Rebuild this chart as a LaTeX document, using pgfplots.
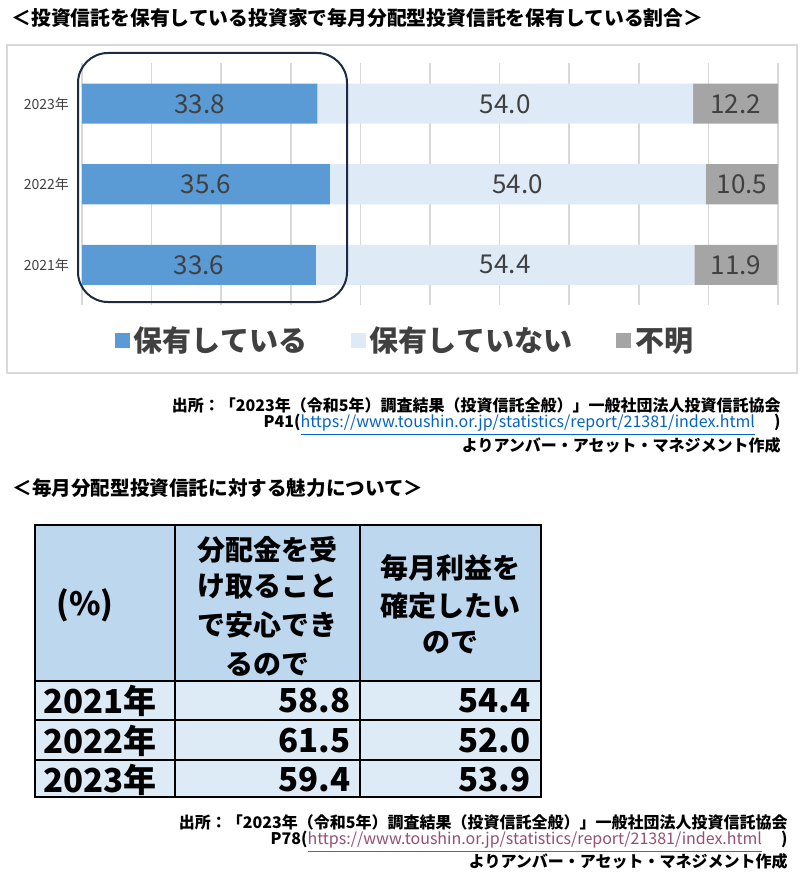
\documentclass[border=0pt]{standalone}
\usepackage{fontspec}
\setmainfont{Noto Sans CJK JP}
\usepackage{pgfplots}
\pgfplotsset{compat=1.18}
\usepackage{pgfplotstable}

\definecolor{hold}{HTML}{5B9BD5}
\definecolor{nohold}{HTML}{DEEBF7}
\definecolor{unknown}{HTML}{A5A5A5}
\definecolor{gridc}{HTML}{D9D9D9}
\definecolor{txt}{HTML}{404040}
\definecolor{hdr}{HTML}{BDD7EE}
\definecolor{bodyc}{HTML}{DDEBF7}
\definecolor{link}{HTML}{0563C1}
\definecolor{visited}{HTML}{954F72}
\definecolor{navy}{HTML}{1F2A40}

% y: 0=2021, 1=2022, 2=2023
\pgfplotstableread{
y hold nohold unknown
0 33.6 54.4 11.9
1 35.6 54.0 10.5
2 33.8 54.0 12.2
}\shares

% label positions = middle of each segment
\pgfplotstableread{
x y label
16.8 0 33.6
60.8 0 54.4
93.95 0 11.9
17.8 1 35.6
62.6 1 54.0
94.85 1 10.5
16.9 2 33.8
60.8 2 54.0
93.9 2 12.2
}\labels

\begin{document}
\begin{tikzpicture}
\begin{axis}[
  at={(41pt,-152.5pt)}, anchor=south west,
  scale only axis, width=348pt, height=120.75pt,
  xbar stacked, bar width=20pt,
  xmin=0, xmax=100, ymin=-0.5, ymax=2.5,
  xtick={0,10,...,100}, xticklabels={},
  xmajorgrids, grid style={gridc, line width=0.8pt},
  ytick={0,1,2}, yticklabels={2021年,2022年,2023年},
  yticklabel style={font=\fontsize{7}{8}\selectfont, text=txt, xshift=-3pt},
  axis line style={draw=none}, major tick style={draw=none},
  legend style={at={(0.4655,-0.149)}, anchor=center, draw=none, fill=none,
    legend columns=3, font=\fontsize{14.5}{16}\selectfont\bfseries, text=txt,
    /tikz/every even column/.append style={column sep=20pt}},
  legend image code/.code={\draw[#1, draw=none] (0pt,-3.75pt) rectangle (7.5pt,3.75pt);},
]
\addplot[fill=hold, draw=none] table[x=hold, y=y] {\shares};
\addlegendentry{保有している}
\addplot[fill=nohold, draw=none] table[x=nohold, y=y] {\shares};
\addlegendentry{保有していない}
\addplot[fill=unknown, draw=none] table[x=unknown, y=y] {\shares};
\addlegendentry{不明}
\end{axis}

\begin{axis}[
  at={(41pt,-152.5pt)}, anchor=south west,
  scale only axis, width=348pt, height=120.75pt,
  xmin=0, xmax=100, ymin=-0.5, ymax=2.5, hide axis, clip=false,
]
\addplot[only marks, mark=none, nodes near coords, point meta=explicit symbolic,
  every node near coord/.append style={anchor=center, font=\fontsize{13}{13}\selectfont, text=txt}]
  table[x=x, y=y, meta=label] {\labels};
\end{axis}

\begin{scope}[x=0.5pt, y=-0.5pt]
% frame and highlight
\draw[gridc, line width=0.8pt] (7,45) rectangle (797,373);
\draw[navy, line width=1pt, rounded corners=15pt] (78,53) rectangle (347,302);

% titles
\node[anchor=west, inner sep=0, font=\fontsize{9.9}{11}\selectfont\bfseries] at (11,18)
  {＜投資信託を保有している投資家で毎月分配型投資信託を保有している割合＞};
\node[anchor=west, inner sep=0, font=\fontsize{9.8}{11}\selectfont\bfseries] at (12,488)
  {＜毎月分配型投資信託に対する魅力について＞};

% sources
\begin{scope}[every node/.style={anchor=east, inner sep=0, font=\fontsize{8}{9}\selectfont\bfseries}]
\node at (781,405) {出所：「2023年（令和5年）調査結果（投資信託全般）」一般社団法人投資信託協会};
\node at (781,425) {P41(\textcolor{link}{\mdseries\underline{https://www.toushin.or.jp/statistics/report/21381/index.html}}\hspace{1.2em})};
\node at (781,445) {よりアンバー・アセット・マネジメント作成};
\node at (788,822) {出所：「2023年（令和5年）調査結果（投資信託全般）」一般社団法人投資信託協会};
\node at (788,842) {P78(\textcolor{visited}{\mdseries\underline{https://www.toushin.or.jp/statistics/report/21381/index.html}}\hspace{1.2em})};
\node at (788,861) {よりアンバー・アセット・マネジメント作成};
\end{scope}

% table
\fill[hdr] (35,525) rectangle (541,681);
\fill[bodyc] (35,681) rectangle (541,797);
\draw[black, line width=1.2pt] (35,525) rectangle (541,797)
  (175,525) -- (175,797) (360,525) -- (360,797)
  (35,681) -- (541,681) (35,720) -- (541,720) (35,760) -- (541,760);

\begin{scope}[every node/.style={inner sep=0, font=\fontsize{14}{15}\selectfont\bfseries}]
\node[font=\fontsize{16}{17}\selectfont\bfseries] at (85,605) {(\%)};
\node at (267,550) {分配金を受};
\node at (267,587) {け取ること};
\node at (267,625) {で安心でき};
\node at (267,664) {るので};
\node at (450,568) {毎月利益を};
\node at (450,606) {確定したい};
\node at (450,643) {ので};
\end{scope}

\begin{scope}[every node/.style={inner sep=0, font=\fontsize{16.5}{18}\selectfont\bfseries}]
\node[anchor=west] at (43,701) {2021年};
\node[anchor=west] at (43,741) {2022年};
\node[anchor=west] at (43,780) {2023年};
\node[anchor=east] at (351,701) {58.8};
\node[anchor=east] at (351,741) {61.5};
\node[anchor=east] at (351,780) {59.4};
\node[anchor=east] at (531,701) {54.4};
\node[anchor=east] at (531,741) {52.0};
\node[anchor=east] at (531,780) {53.9};
\end{scope}

\pgfresetboundingbox
\path[use as bounding box] (0,0) rectangle (800,882);
\end{scope}
\end{tikzpicture}
\end{document}
